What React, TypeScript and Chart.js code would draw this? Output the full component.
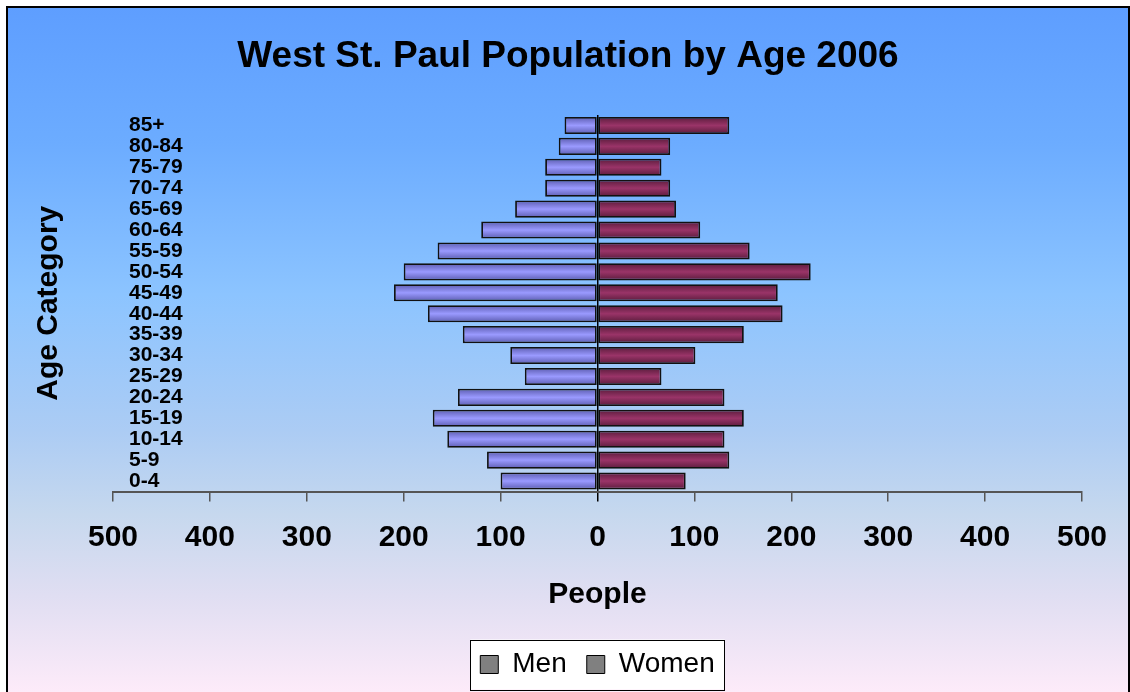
import React, { useEffect, useRef } from 'react';
import { Chart, registerables } from 'chart.js';

Chart.register(...registerables);

const ageGroups = ['85+', '80-84', '75-79', '70-74', '65-69', '60-64', '55-59', '50-54', '45-49', '40-44', '35-39', '30-34', '25-29', '20-24', '15-19', '10-14', '5-9', '0-4'];
const menCounts = [34, 40, 54, 54, 85, 120, 165, 200, 210, 175, 139, 90, 75, 144, 170, 155, 114, 100];
const womenCounts = [136, 75, 66, 75, 81, 106, 157, 220, 186, 191, 151, 101, 66, 131, 151, 131, 136, 91];
const axisMin = -500;
const axisMax = 500;
const axisStep = 100;

const W = 1130;
const H = 692;
const FONT = '"Liberation Sans", Arial, sans-serif';
const BAR_PCT = 0.82;

function barFill(light: string, dark: string) {
  return (c: any) => {
    const chart = c.chart;
    const y = chart.scales && chart.scales.y;
    if (!y || c.type !== 'data' || !chart.chartArea) return light;
    const center = y.getPixelForValue(c.dataIndex);
    const half = ((y.height / ageGroups.length) * BAR_PCT) / 2;
    const g = chart.ctx.createLinearGradient(0, center - half, 0, center + half);
    g.addColorStop(0, dark);
    g.addColorStop(0.5, light);
    g.addColorStop(1, dark);
    return g;
  };
}

const framePlugin = {
  id: 'frameBg',
  afterLayout(chart: any) {
    const x = chart.scales.x;
    const lg = chart.legend;
    if (x && lg) {
      const zero = x.getPixelForValue(0);
      const dx = zero - (lg.left + lg.right) / 2;
      lg.left += dx;
      lg.right += dx;
    }
    const t = chart.titleBlock;
    if (t) {
      const dx = 568 - (t.left + t.right) / 2;
      t.left += dx;
      t.right += dx;
    }
  },
  beforeDraw(chart: any) {
    const ctx = chart.ctx;
    ctx.save();
    ctx.fillStyle = '#ffffff';
    ctx.fillRect(0, 0, chart.width, chart.height);
    const g = ctx.createLinearGradient(0, 7, 0, chart.height);
    g.addColorStop(0, '#5e9eff');
    g.addColorStop(0.2, '#6cacff');
    g.addColorStop(0.42, '#8cc4ff');
    g.addColorStop(0.62, '#acccf4');
    g.addColorStop(0.74, '#c6d8ee');
    g.addColorStop(0.86, '#e0def2');
    g.addColorStop(1, '#fdebf9');
    ctx.fillStyle = g;
    ctx.fillRect(7, 7, 1122, chart.height);
    ctx.strokeStyle = '#000';
    ctx.lineWidth = 2;
    ctx.strokeRect(7, 7, 1122, chart.height + 10);
    const lg = chart.legend;
    if (lg && lg.legendHitBoxes && lg.legendHitBoxes.length) {
      const hb = lg.legendHitBoxes;
      let l = Infinity, r = -Infinity, t = Infinity, b = -Infinity;
      hb.forEach((h: any) => {
        l = Math.min(l, h.left);
        r = Math.max(r, h.left + h.width);
        t = Math.min(t, h.top);
        b = Math.max(b, h.top + h.height);
      });
      ctx.fillStyle = '#ffffff';
      ctx.fillRect(l - 10, t - 11, r - l + 20, b - t + 22);
      ctx.strokeStyle = '#000';
      ctx.lineWidth = 1;
      ctx.strokeRect(Math.round(l - 10) + 0.5, Math.round(t - 11) + 0.5, Math.round(r - l + 20), Math.round(b - t + 22));
    }
    ctx.restore();
  },
};

export default function App() {
  const ref = useRef<HTMLCanvasElement | null>(null);

  useEffect(() => {
    if (!ref.current) return;
    Chart.defaults.font.family = FONT;
    Chart.defaults.color = '#000';
    const chart = new Chart(ref.current, {
      type: 'bar',
      data: {
        labels: ageGroups,
        datasets: [
          {
            label: 'Men',
            data: menCounts.map((v) => -v),
            backgroundColor: barFill('#9a9aff', '#5c5cb0'),
            borderColor: '#111',
            borderWidth: 1.8,
            borderSkipped: false,
            barPercentage: BAR_PCT,
            categoryPercentage: 1,
          },
          {
            label: 'Women',
            data: womenCounts,
            backgroundColor: barFill('#9a3468', '#5a1c3c'),
            borderColor: '#111',
            borderWidth: 1.8,
            borderSkipped: false,
            barPercentage: BAR_PCT,
            categoryPercentage: 1,
          },
        ],
      },
      options: {
        indexAxis: 'y',
        responsive: false,
        animation: false,
        layout: { padding: { left: 31, right: 48, top: 0, bottom: 3.5 } },
        scales: {
          x: {
            stacked: true,
            min: axisMin,
            max: axisMax,
            ticks: {
              stepSize: axisStep,
              padding: 18,
              font: { size: 30, weight: 'bold' },
              color: '#000',
              callback: (v: any) => String(Math.abs(Number(v))),
            },
            grid: {
              drawTicks: true,
              tickLength: 10,
              lineWidth: 1.5,
              color: (c: any) => (c.tick && c.tick.value === 0 ? '#000' : 'rgba(0,0,0,0)'),
              tickColor: (c: any) => (c.tick && c.tick.value === 0 ? '#000' : '#555'),
            },
            border: { display: true, color: '#555', width: 2 },
            title: {
              display: true,
              text: 'People',
              font: { size: 30, weight: 'bold' },
              color: '#000',
              padding: { top: 3, bottom: 18 },
            },
          },
          y: {
            stacked: true,
            ticks: {
              mirror: true,
              padding: 16,
              crossAlign: 'near',
              autoSkip: false,
              font: { size: 21, weight: 'bold' },
              color: '#000',
            },
            grid: { display: false, drawTicks: false },
            border: { display: false },
            title: {
              display: true,
              text: 'Age Category',
              font: { size: 30, weight: 'bold' },
              color: '#000',
              padding: { top: 0, bottom: 14 },
            },
          },
        },
        plugins: {
          title: {
            display: true,
            text: 'West St. Paul Population by Age 2006',
            font: { size: 37, weight: 'bold' },
            color: '#000',
            padding: { top: 35, bottom: 35.6 },
          },
          legend: {
            position: 'bottom',
            labels: {
              boxWidth: 18,
              boxHeight: 18,
              padding: 20,
              color: '#000',
              font: { size: 28 },
              generateLabels: (ch: any) =>
                Chart.defaults.plugins.legend.labels.generateLabels(ch).map((l: any) => ({
                  ...l,
                  fillStyle: '#808080',
                  strokeStyle: '#000',
                  lineWidth: 1,
                })),
            },
          },
          tooltip: { enabled: false },
        },
      },
      plugins: [framePlugin],
    } as any);
    return () => chart.destroy();
  }, []);

  return (
    <div style={{ position: 'absolute', left: 0, top: 0, width: W, height: H }}>
      <canvas ref={ref} width={W} height={H} style={{ display: 'block' }} />
    </div>
  );
}
